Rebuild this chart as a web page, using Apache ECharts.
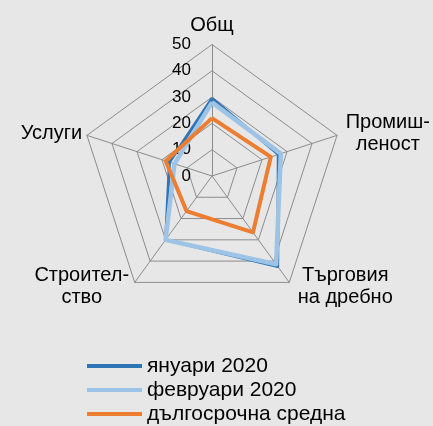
<!DOCTYPE html>
<html>
<head>
<meta charset="utf-8">
<script src="https://cdn.jsdelivr.net/npm/echarts@6/dist/echarts.min.js"></script>
<style>
html,body{margin:0;padding:0;background:#e7e7e7;}
#chart{width:433px;height:426px;}
</style>
</head>
<body>
<div id="chart"></div>
<script>
// categories listed in ECharts' (counter-clockwise) drawing order starting at the top
const indicators = ['Общ', 'Услуги', 'Строител-\nство', 'Търговия\nна дребно', 'Промиш-\nленост'];
const axisMax = 50;
const seriesNames = ['януари 2020', 'февруари 2020', 'дългосрочна средна'];
const jan2020 = [29.5, 17, 30, 42.5, 26.5];
const feb2020 = [28, 15, 30, 41.5, 27.5];
const longTerm = [22, 18.5, 16.5, 26.5, 23.5];

const colors = ['#2e75b6', '#9dc3e6', '#ed7d31'];
const widths = [3, 4.5, 4];
const font = 'Liberation Sans, Arial, sans-serif';
const nameSize = 20;

const richKeys = ['t', 'l1', 'l2', 'r2', 'r1'];
const chart = echarts.init(document.getElementById('chart'));
chart.setOption({
  backgroundColor: '#e7e7e7',
  animation: false,
  legend: {
    orient: 'vertical',
    left: 87,
    top: 355,
    padding: 0,
    itemWidth: 55,
    itemHeight: 4,
    itemGap: 2,
    icon: 'rect',
    textStyle: { fontSize: 21, fontFamily: font, color: '#000', lineHeight: 22 },
    data: seriesNames
  },
  radar: {
    center: [212, 176],
    radius: 131.5,
    shape: 'polygon',
    splitNumber: 5,
    startAngle: 90,
    nameGap: 5,
    indicator: indicators.map((n, i) => i === 0
      ? { name: n, max: axisMax, min: 0, axisLabel: { show: true, fontSize: 17, fontFamily: font, color: '#000', margin: 21 } }
      : { name: n, max: axisMax, min: 0 }),
    axisName: {
      color: '#000',
      fontSize: nameSize,
      fontFamily: font,
      lineHeight: 22,
      formatter: function (name) {
        const i = indicators.indexOf(name);
        const k = richKeys[i];
        return name.split('\n').map(s => '{' + k + '|' + s + '}').join('\n');
      },
      rich: {
        t: { fontSize: nameSize, fontFamily: font, color: '#000' },
        r1: { fontSize: nameSize, fontFamily: font, color: '#000', width: 92, align: 'center', lineHeight: 22 },
        r2: { fontSize: nameSize, fontFamily: font, color: '#000', width: 106, align: 'center', lineHeight: 22 },
        l2: { fontSize: nameSize, fontFamily: font, color: '#000', width: 100, align: 'center', lineHeight: 22 },
        l1: { fontSize: nameSize, fontFamily: font, color: '#000' }
      }
    },
    axisLabel: { show: false },
    axisLine: { lineStyle: { color: '#8c8c8c', width: 1 } },
    splitLine: { lineStyle: { color: '#8c8c8c', width: 1 } },
    splitArea: { show: false },
    axisTick: { show: false }
  },
  series: [{
    type: 'radar',
    symbol: 'none',
    data: [
      { name: seriesNames[0], value: jan2020, lineStyle: { color: colors[0], width: widths[0] }, itemStyle: { color: colors[0] } },
      { name: seriesNames[1], value: feb2020, lineStyle: { color: colors[1], width: widths[1] }, itemStyle: { color: colors[1] } },
      { name: seriesNames[2], value: longTerm, lineStyle: { color: colors[2], width: widths[2] }, itemStyle: { color: colors[2] } }
    ]
  }]
});
</script>
</body>
</html>
